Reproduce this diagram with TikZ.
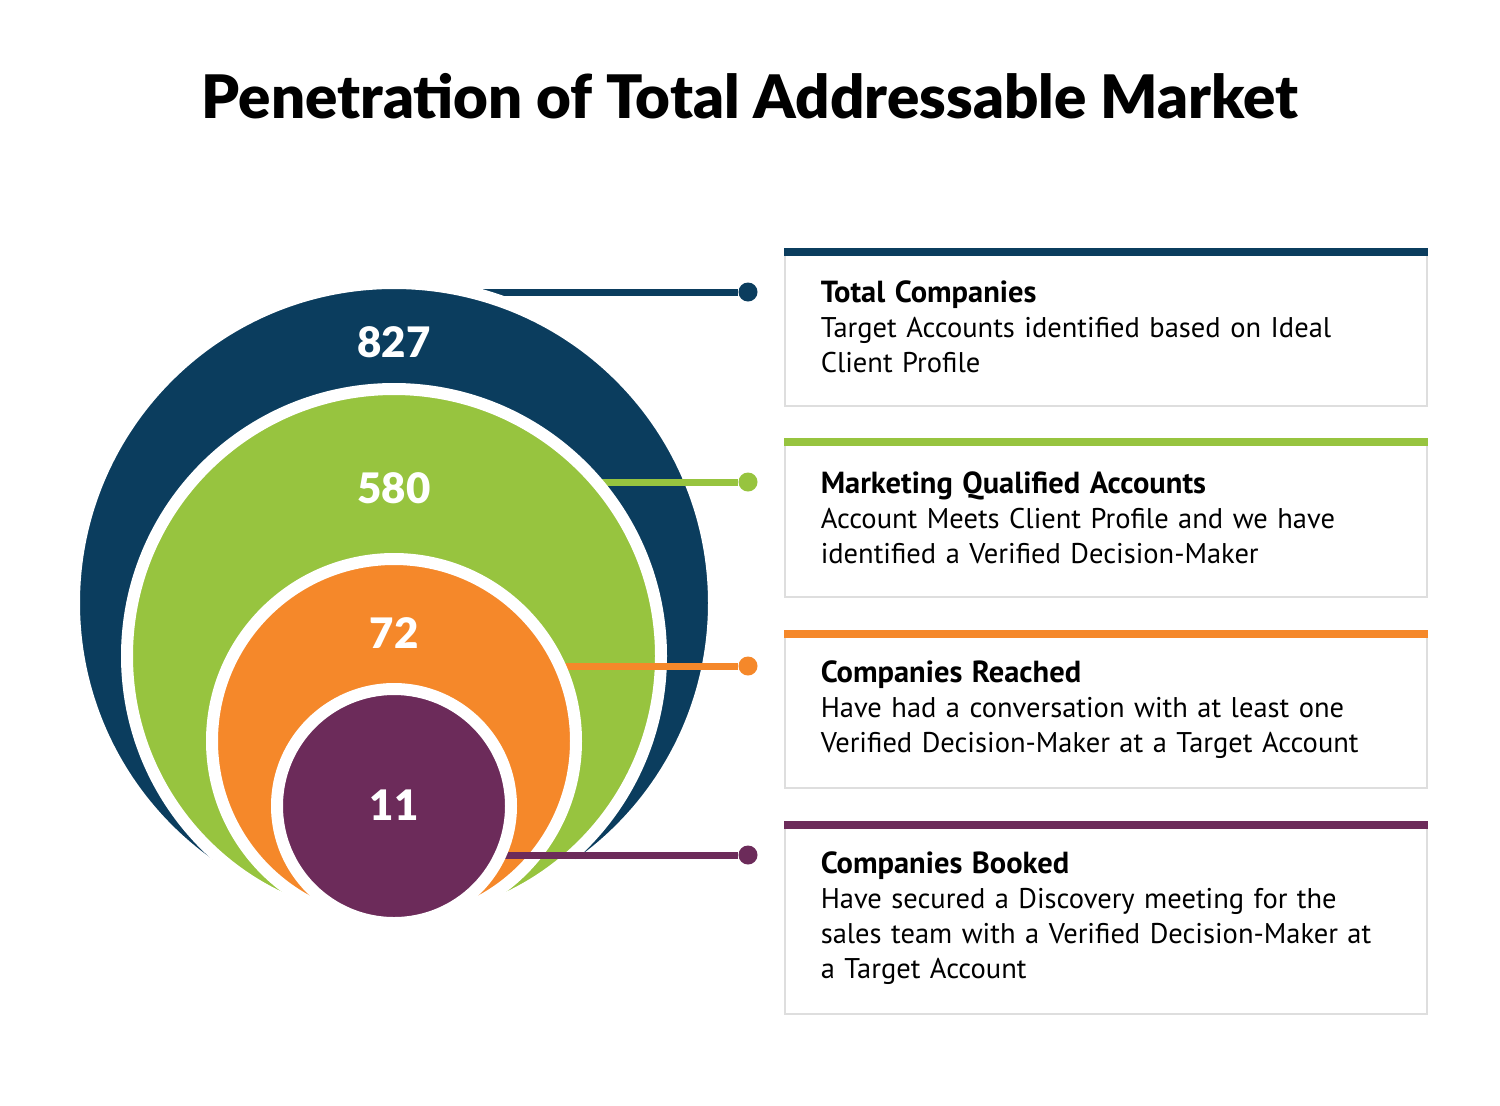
\documentclass[tikz,border=0pt]{standalone}
\usepackage{fontspec}
\setmainfont{PT Sans}
\IfFontExistsTF{Lato Black}
  {\newfontfamily\headfont{Lato Black}}
  {\newfontfamily\headfont{Lato}[FakeBold=2]}
\usepackage{tikz}
\definecolor{navyc}{HTML}{0B3D5E}
\definecolor{greenc}{HTML}{97C43F}
\definecolor{orangec}{HTML}{F5882A}
\definecolor{plumc}{HTML}{6C2B5A}
\definecolor{cardline}{HTML}{DEDEDE}
\newcommand{\cardhead}[1]{{\fontsize{30.5}{36}\selectfont\bfseries #1}}

\begin{document}
\begin{tikzpicture}[x=1pt,y=-1pt,
  disc/.style={circle,inner sep=0pt,draw=white,line width=12pt,fill=#1},
  link/.style={draw=#1,line width=7pt},
  dot/.style={circle,inner sep=0pt,minimum size=19pt,fill=#1},
  count/.style={anchor=base,text=white,font=\headfont\fontsize{42}{42}\selectfont},
  card/.style={draw=cardline,line width=1.5pt,fill=white,anchor=north west,
    minimum width=642pt,inner xsep=36pt,inner ysep=0pt,text width=570pt,
    align=left,font=\fontsize{28.5}{35}\selectfont}
  ]
  \useasboundingbox (0,0) rectangle (1500,1106);

  \node[anchor=base,font=\headfont\fontsize{60}{60}\selectfont] (title) at (750,118)
    {Penetration of Total Addressable Market};

  \node[card,minimum height=157pt] (bTotal) at (784,248)
    {\cardhead{Total Companies}\\
     Target Accounts identified based on Ideal\\
     Client Profile};
  \node[card,minimum height=158pt] (bQualified) at (784,438)
    {\cardhead{Marketing Qualified Accounts}\\
     Account Meets Client Profile and we have\\
     identified a Verified Decision-Maker};
  \node[card,minimum height=157pt] (bReached) at (784,630)
    {\cardhead{Companies Reached}\\
     Have had a conversation with at least one\\
     Verified Decision-Maker at a Target Account};
  \node[card,minimum height=192pt] (bBooked) at (784,821)
    {\cardhead{Companies Booked}\\
     Have secured a Discovery meeting for the\\
     sales team with a Verified Decision-Maker at\\
     a Target Account};

  \fill[navyc] (bTotal.north west) rectangle ([yshift=-8pt]bTotal.north east);
  \fill[greenc] (bQualified.north west) rectangle ([yshift=-8pt]bQualified.north east);
  \fill[orangec] (bReached.north west) rectangle ([yshift=-8pt]bReached.north east);
  \fill[plumc] (bBooked.north west) rectangle ([yshift=-8pt]bBooked.north east);

  \coordinate (cTotal) at (394,603);
  \coordinate (cQualified) at (394,656);
  \coordinate (cReached) at (394,741);
  \coordinate (cBooked) at (394,806);

  \node[dot=navyc] (dTotal) at (748,292) {};
  \node[dot=greenc] (dQualified) at (748,482) {};
  \node[dot=orangec] (dReached) at (748,666) {};
  \node[dot=plumc] (dBooked) at (748,855) {};

  \draw[link=navyc] (dTotal) -- (dTotal -| cTotal);
  \node[disc=navyc,minimum size=640pt] (total) at (cTotal) {};
  \node[count] (nTotal) at (394,357) {827};

  \draw[link=greenc] (dQualified) -- (dQualified -| cQualified);
  \node[disc=greenc,minimum size=534pt] (qualified) at (cQualified) {};
  \node[count] (nQualified) at (394,503) {580};

  \draw[link=orangec] (dReached) -- (dReached -| cReached);
  \node[disc=orangec,minimum size=364pt] (reached) at (cReached) {};
  \node[count] (nReached) at (394,648) {72};

  \draw[link=plumc] (dBooked) -- (dBooked -| cBooked);
  \node[disc=plumc,minimum size=234pt] (booked) at (cBooked) {};
  \node[count] (nBooked) at (394,820) {11};
\end{tikzpicture}
\end{document}
